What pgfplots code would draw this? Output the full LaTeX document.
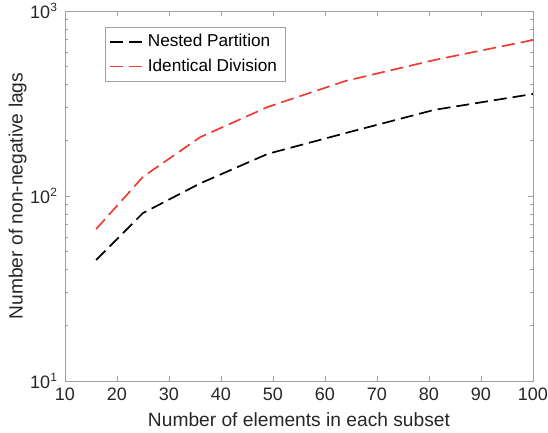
\documentclass[border=0pt]{standalone}
\usepackage{fontspec}
\setmainfont{Liberation Sans}
\usepackage{xcolor}
\usepackage{tikz}
\usepackage{pgfplots}
\pgfplotsset{compat=1.18}
\definecolor{txt}{HTML}{262626}
\definecolor{boxgray}{HTML}{A0A0A0}
\definecolor{mred}{HTML}{F03C32}

\begin{document}
\begin{tikzpicture}
\useasboundingbox (-32.5pt,-26pt) rectangle (241.5pt,190.5pt);
\begin{semilogyaxis}[
  scale only axis,
  width=234pt, height=185pt,
  xmin=10, xmax=100,
  ymin=10, ymax=1000,
  xtick={10,20,...,100},
  ytick={10,100,1000},
  yticklabels={10\textsuperscript{1},10\textsuperscript{2},10\textsuperscript{3}},
  /pgf/number format/assume math mode=true,
  tick label style={font=\fontsize{9}{10}\selectfont, text=txt},
  label style={font=\fontsize{9.6}{10}\selectfont, text=txt},
  xlabel={Number of elements in each subset},
  ylabel={Number of non-negative lags},
  ylabel shift=-5pt,
  xlabel shift=-1pt,
  axis line style={draw=boxgray},
  every tick/.style={draw=boxgray},
  major tick length=2.6pt,
  minor tick length=1.6pt,
  tick align=inside,
  legend style={at={(0.085,0.957)}, anchor=north west,
    draw=boxgray, fill=white, font=\fontsize{8.6}{10}\selectfont,
    row sep=0.5pt, inner xsep=2pt, inner ysep=1.5pt},
  legend cell align=left,
  legend image code/.code={\draw[#1] (0pt,0pt) -- (16.5pt,0pt);},
]
\addplot[black, line width=0.85pt, dash pattern=on 6.5pt off 3pt] coordinates {
  (16,45.1) (25,80.9) (36,117) (49,169) (64,219) (81,292) (100,356)
};
\addlegendentry{Nested Partition}
\addplot[mred, line width=0.85pt, dash pattern=on 6.5pt off 3pt] coordinates {
  (16,66.3) (25,127) (36,208) (49,303) (64,419) (81,543) (100,697)
};
\addlegendentry{Identical Division}
\end{semilogyaxis}
\end{tikzpicture}
\end{document}
